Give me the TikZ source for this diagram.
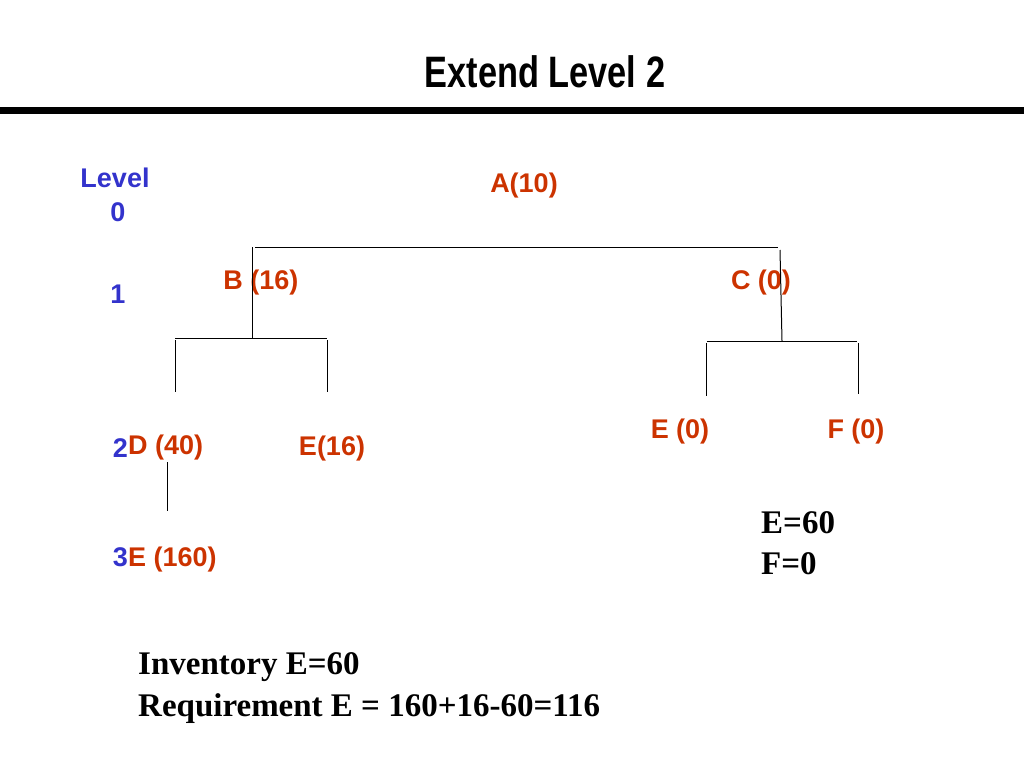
\documentclass[tikz,border=0pt]{standalone}
\usepackage{fontspec}
\setmainfont{Liberation Serif}
\setsansfont{Liberation Sans}
\definecolor{myred}{HTML}{CC3300}
\definecolor{myblue}{HTML}{3333CC}
\begin{document}
\begin{tikzpicture}[x=1pt,y=-1pt,
  lbl/.style={font=\sffamily\bfseries\fontsize{27}{30}\selectfont,text=myred,inner sep=0pt},
  lvl/.style={font=\sffamily\bfseries\fontsize{27}{30}\selectfont,text=myblue,inner sep=0pt},
  tr/.style={font=\bfseries\fontsize{33}{36}\selectfont,inner sep=0pt,anchor=west},
  ln/.style={line width=1pt}]
\useasboundingbox (0,0) rectangle (1024,768);
\node[font=\sffamily\bfseries\fontsize{44}{48}\selectfont,xscale=0.78,inner sep=0pt] (title) at (545,72) {Extend Level 2};
\draw[line width=7pt] (0,110) -- (1024,110);
\node[lvl] (l0) at (115,178) {Level};
\node[lvl] (l0b) at (118,212) {0};
\node[lvl] (l1) at (118,294) {1};
\node[lvl,anchor=east] (l2) at (128,448) {2};
\node[lvl,anchor=east] (l3) at (128,557) {3};
\node[lbl] (A) at (524,186) {A(10)};
\node[lbl] (B) at (261,283) {B (16)};
\node[lbl] (C) at (761,283) {C (0)};
\node[lbl,anchor=west] (D) at (128,448) {D (40)};
\node[lbl] (E1) at (332,449) {E(16)};
\node[lbl] (E2) at (680,432) {E (0)};
\node[lbl] (F) at (856,432) {F (0)};
\node[lbl,anchor=west] (E3) at (128,560) {E (160)};
\draw[ln] (255,247) -- (778,247);
\draw[ln] (252,247) -- (252,338);
\draw[ln] (780,250) -- (782,341);
\draw[ln] (175,338) -- (327,338);
\draw[ln] (175,340) -- (175,392);
\draw[ln] (327,340) -- (327,392);
\draw[ln] (707,341) -- (857,341);
\draw[ln] (706,343) -- (706,396);
\draw[ln] (858,343) -- (858,394);
\draw[ln] (167,462) -- (167,511);
\node[tr] (n1) at (761,523) {E=60};
\node[tr] (n2) at (761,564) {F=0};
\node[tr] (n3) at (138,667) {Inventory E=60};
\node[tr] (n4) at (138,709) {Requirement E = 160+16-60=116};
\end{tikzpicture}
\end{document}
